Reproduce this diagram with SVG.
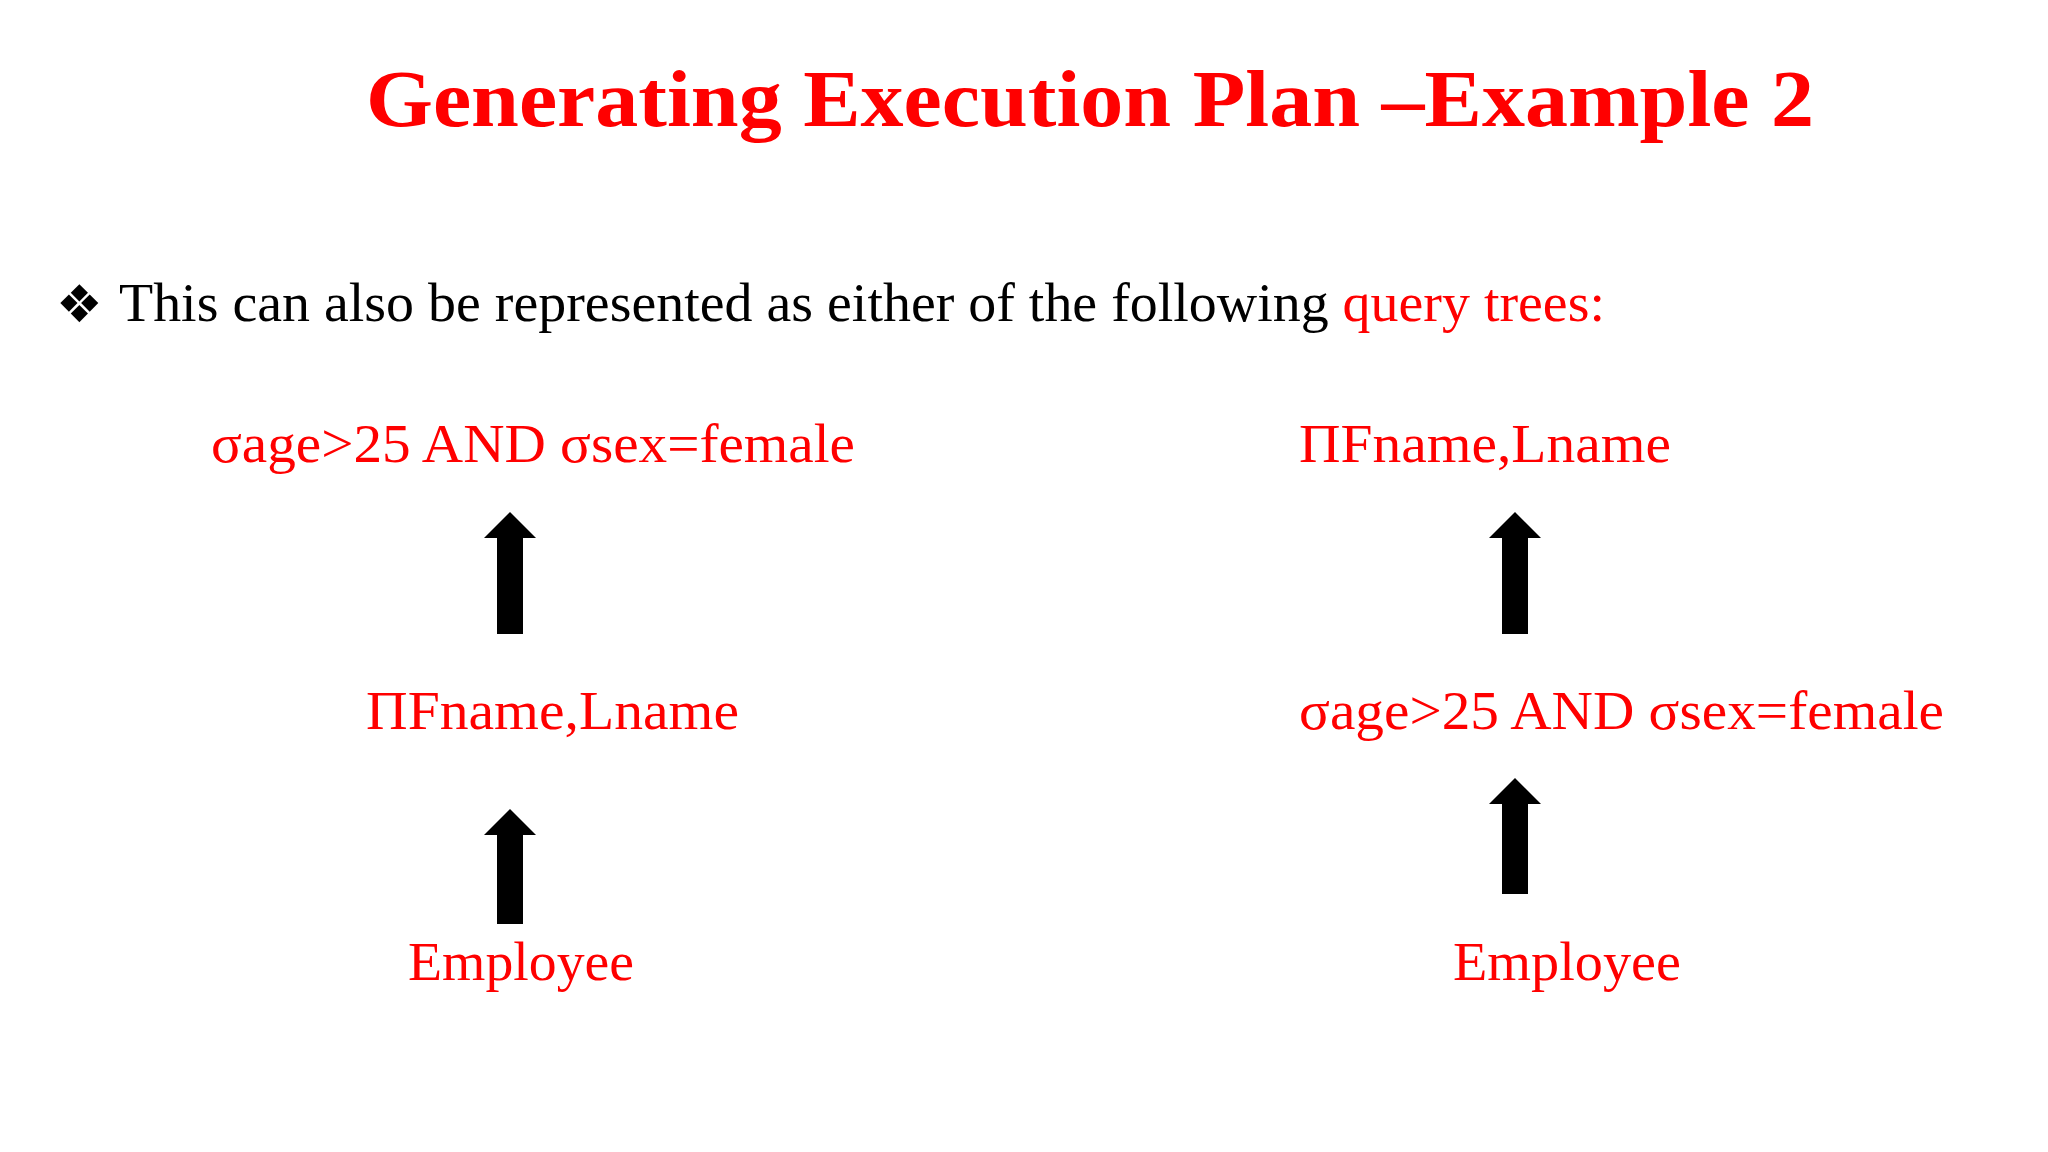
<svg xmlns="http://www.w3.org/2000/svg" width="2048" height="1152" viewBox="0 0 2048 1152">
<style>
.r{fill:#ff0000;font-family:"Liberation Serif",serif;font-size:54px}
.t{font-family:"Liberation Serif",serif;font-size:54px;fill:#000}
.a{fill:#000}
</style>
<rect width="2048" height="1152" fill="#fff"/>
<text x="366" y="126" fill="#ff0000" font-family="Liberation Serif,serif" font-weight="bold" font-size="80" textLength="1448" lengthAdjust="spacingAndGlyphs">Generating Execution Plan –Example 2</text>
<text x="56" y="322" font-family="DejaVu Sans,sans-serif" font-size="52" fill="#000">❖</text>
<text class="t" x="119" y="321" textLength="1486" lengthAdjust="spacingAndGlyphs">This can also be represented as either of the following <tspan fill="#ff0000">query trees:</tspan></text>
<g id="l1"><text class="r" x="211" y="462" textLength="644" lengthAdjust="spacingAndGlyphs">σage&gt;25 AND σsex=female</text></g>
<g id="l2"><text class="r" x="366" y="729" textLength="373" lengthAdjust="spacingAndGlyphs">ΠFname,Lname</text></g>
<g id="l3"><text class="r" x="408" y="980" textLength="226" lengthAdjust="spacingAndGlyphs">Employee</text></g>
<g id="r1"><text class="r" x="1299" y="462" textLength="372" lengthAdjust="spacingAndGlyphs">ΠFname,Lname</text></g>
<g id="r2"><text class="r" x="1299" y="729" textLength="645" lengthAdjust="spacingAndGlyphs">σage&gt;25 AND σsex=female</text></g>
<g id="r3"><text class="r" x="1453" y="980" textLength="228" lengthAdjust="spacingAndGlyphs">Employee</text></g>
<g id="connectors">
<path class="a" d="M510 512 L536 538 L523 538 L523 634 L497 634 L497 538 L484 538 Z"/>
<path class="a" d="M510 809 L536 835 L523 835 L523 924 L497 924 L497 835 L484 835 Z"/>
<path class="a" d="M1515 512 L1541 538 L1528 538 L1528 634 L1502 634 L1502 538 L1489 538 Z"/>
<path class="a" d="M1515 778 L1541 804 L1528 804 L1528 894 L1502 894 L1502 804 L1489 804 Z"/>
</g>
</svg>
